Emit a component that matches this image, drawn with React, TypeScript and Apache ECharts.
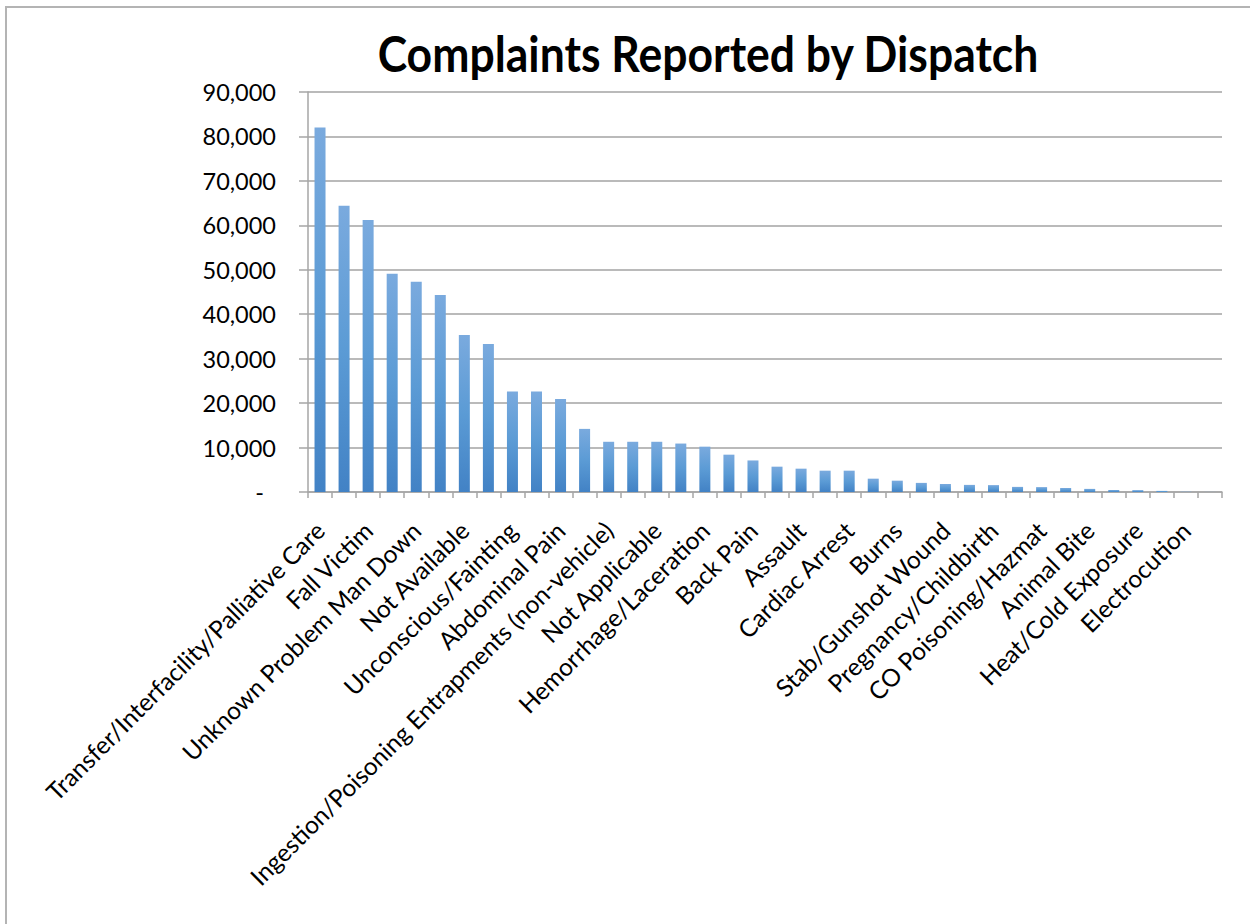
import React, { useEffect, useRef } from "react";
import * as echarts from "echarts";

const categories: string[] = [
  "Transfer/Interfacility/Palliative Care",
  "Sick Person",
  "Fall Victim",
  "Breathing Problem",
  "Unknown Problem Man Down",
  "Chest Pain",
  "Not Available",
  "Traffic/Transportation Accident",
  "Unconscious/Fainting",
  "Convulsions/Seizures",
  "Abdominal Pain",
  "Psychiatric Problem",
  "Ingestion/Poisoning Entrapments (non-vehicle)",
  "Stroke/CVA",
  "Not Applicable",
  "Diabetic Problem",
  "Hemorrhage/Laceration",
  "Overdose",
  "Back Pain",
  "Headache",
  "Assault",
  "Allergic Reaction",
  "Cardiac Arrest",
  "Heart Problems",
  "Burns",
  "Choking",
  "Stab/Gunshot Wound",
  "Eye Problem",
  "Pregnancy/Childbirth",
  "Drowning",
  "CO Poisoning/Hazmat",
  "Industrial Accident",
  "Animal Bite",
  "Medical Alarm",
  "Heat/Cold Exposure",
  "Mass Casualty Incident",
  "Electrocution",
  "Lightning Strike",
];

const complaintCounts: number[] = [
  82000, 64400, 61200, 49100, 47300, 44300, 35300, 33300, 22600, 22600,
  20900, 14200, 11300, 11300, 11300, 10900, 10200, 8400, 7100, 5700,
  5250, 4800, 4800, 3000, 2550, 2050, 1800, 1600, 1550, 1150,
  1100, 900, 700, 450, 420, 250, 60, 20,
];

const titleText = "Complaints Reported by Dispatch";
const yMin = 0;
const yMax = 90000;
const yStep = 10000;

export default function App() {
  const ref = useRef<HTMLDivElement>(null);
  useEffect(() => {
    if (!ref.current) return;
    const chart = echarts.init(ref.current, undefined, { renderer: "svg" });
    const font = "Lato, 'Open Sans', sans-serif";
    chart.setOption({
      animation: false,
      backgroundColor: "#ffffff",
      graphic: [
        {
          type: "rect",
          shape: { x: 6, y: 7, width: 1400, height: 1100 },
          style: { fill: "none", stroke: "#b4b4b4", lineWidth: 2 },
          silent: true,
        },
        {
          type: "text",
          x: 708,
          y: 52,
          scaleY: 1.12,
          style: {
            text: titleText,
            fontFamily: font,
            fontWeight: "bold",
            fontSize: 44.5,
            fill: "#000000",
            textAlign: "center",
            textVerticalAlign: "middle",
          },
        },
      ],
      grid: { left: 308, right: 28, top: 92, bottom: 432, containLabel: false },
      xAxis: {
        type: "category",
        data: categories,
        boundaryGap: true,
        axisLine: { show: true, lineStyle: { color: "#a6a6a6", width: 1.5 } },
        axisTick: {
          show: true,
          interval: 0,
          alignWithLabel: false,
          length: 6,
          lineStyle: { color: "#a6a6a6", width: 1.5 },
        },
        axisLabel: {
          interval: 1,
          rotate: 45,
          margin: 34,
          fontFamily: font,
          fontSize: 24.5,
          color: "#000000",
        },
        splitLine: { show: false },
      },
      yAxis: {
        type: "value",
        min: yMin,
        max: yMax,
        interval: yStep,
        axisLine: { show: true, lineStyle: { color: "#a6a6a6", width: 1.5 } },
        axisTick: { show: true, inside: false, length: 9, lineStyle: { color: "#a6a6a6", width: 1.5 } },
        splitLine: { show: true, lineStyle: { color: "#a3a3a3", width: 1.5 } },
        axisLabel: {
          margin: 32,
          fontFamily: font,
          fontSize: 23.5,
          color: "#000000",
          formatter: (v: number) =>
            v === 0 ? "{d|-}" : v.toLocaleString("en-US"),
          rich: {
            d: { fontFamily: font, fontSize: 23.5, color: "#000000", padding: [0, 12, 0, 0] },
          },
        },
      },
      series: [
        {
          type: "bar",
          data: complaintCounts,
          barWidth: 11,
          itemStyle: {
            color: new echarts.graphic.LinearGradient(0, 0, 0, 1, [
              { offset: 0, color: "#7aaade" },
              { offset: 0.5, color: "#5b9bd5" },
              { offset: 1, color: "#4282c5" },
            ]),
          },
        },
      ],
    });
    return () => chart.dispose();
  }, []);
  return (
    <div
      ref={ref}
      style={{ position: "fixed", left: 0, top: 0, width: 1250, height: 924 }}
    />
  );
}
